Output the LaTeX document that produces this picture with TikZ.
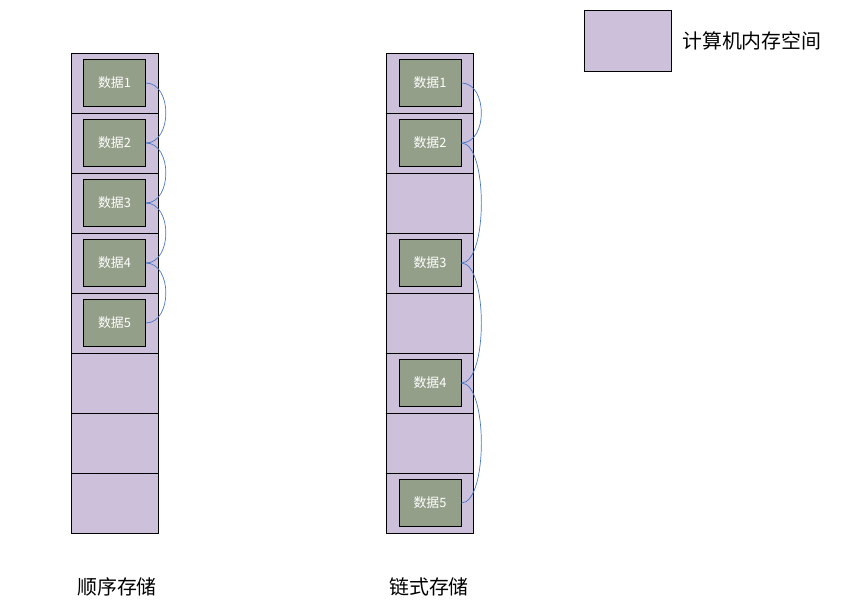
\documentclass[tikz,border=0pt]{standalone}
\usepackage{fontspec}
\setmainfont{Noto Sans CJK SC}
\usepackage{tikz}
\usetikzlibrary{positioning}
\definecolor{memfill}{HTML}{CCC0DA}
\definecolor{datafill}{HTML}{949F89}
\definecolor{linkblue}{HTML}{4A76C8}
\tikzset{
  cell/.style={draw,fill=memfill,line width=0.6pt,minimum width=2.61cm,
               minimum height=1.8cm,inner sep=0pt},
  databox/.style={draw,fill=datafill,line width=0.6pt,minimum width=1.86cm,
                  minimum height=1.41cm,inner sep=0pt,text=white,
                  font=\fontsize{11}{13}\selectfont},
  link/.style={linkblue,line width=0.6pt},
  curl/.style={out=0,in=0,distance=0.8cm},
  caption/.style={font=\fontsize{17}{20}\selectfont},
}
\begin{document}
\begin{tikzpicture}[x=0.03cm,y=-0.03cm]
\useasboundingbox (0,0) rectangle (867,612);
% memory columns
\foreach \i in {1,...,8}{
  \node[cell] (cL\i) at (114.5,{83+60*(\i-1)}) {};
  \node[cell] (cR\i) at (430,{83+60*(\i-1)}) {};
}
% sequential storage
\foreach \i in {1,...,5}
  \node[databox] (dL\i) at (cL\i) {数据\i};
\foreach \i/\j in {1/2,2/3,3/4,4/5}
  \draw[link] (dL\i.east) to[curl] (dL\j.east);
% linked storage
\node[databox] (dR1) at (cR1) {数据1};
\node[databox] (dR2) at (cR2) {数据2};
\node[databox] (dR3) at (cR4) {数据3};
\node[databox] (dR4) at (cR6) {数据4};
\node[databox] (dR5) at (cR8) {数据5};
\foreach \i/\j in {1/2,2/3,3/4,4/5}
  \draw[link] (dR\i.east) to[curl] (dR\j.east);
% captions and legend
\node[caption] (capL) at (117,587) {顺序存储};
\node[caption] (capR) at (429,587) {链式存储};
\node[cell,minimum height=1.83cm] (legbox) at (627.5,40.5) {};
\node[caption,right=0.2cm of legbox] (legtext) {计算机内存空间};
\end{tikzpicture}
\end{document}
